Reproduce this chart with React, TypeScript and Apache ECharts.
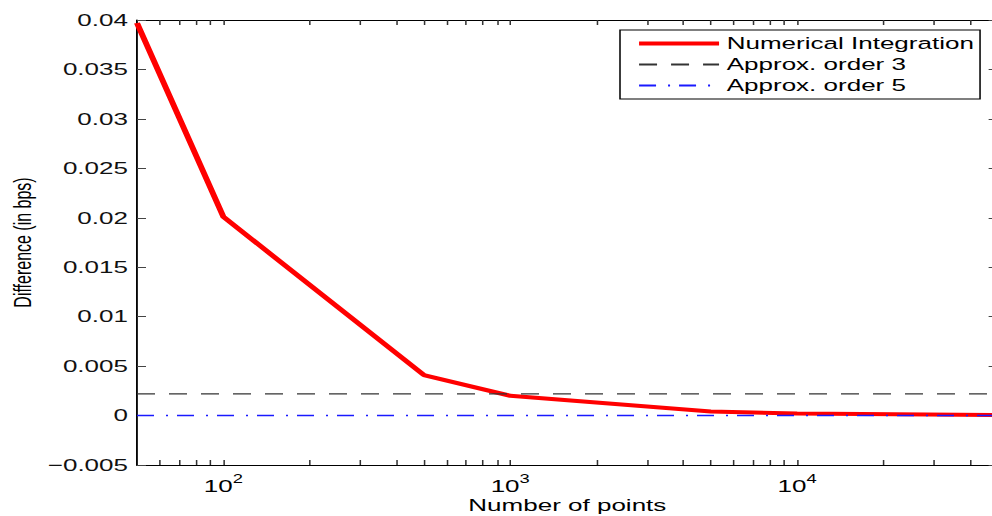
import React, { useEffect, useRef } from "react";
import * as echarts from "echarts";

// ---- data ----
const pointCounts = [50, 100, 500, 1000, 5000, 10000, 50000];
const numericalIntegration = [0.0397, 0.0201, 0.0041, 0.002, 0.0004, 0.0002, 0.00005];
const approxOrder3Value = 0.0022;
const approxOrder5Value = 0;
const xRange = [50, 50000];
const xMajorTicks = [100, 1000, 10000];
const xMajorExponents = ["2", "3", "4"];
const xMinorTicks = [60, 70, 80, 90, 200, 300, 400, 500, 600, 700, 800, 900, 2000, 3000, 4000, 5000, 6000, 7000, 8000, 9000, 20000, 30000, 40000];
const yTickValues = [-0.005, 0, 0.005, 0.01, 0.015, 0.02, 0.025, 0.03, 0.035, 0.04];
const yTickLabels = ["\u22120.005", "0", "0.005", "0.01", "0.015", "0.02", "0.025", "0.03", "0.035", "0.04"];
const seriesNames = ["Numerical Integration", "Approx. order 3", "Approx. order 5"];

// horizontal stretch of the original figure
const SX = 1.53;
const FULL_W = 1000;
const H = 516;
const FONT = "'Liberation Sans', Arial, Helvetica, sans-serif";

export default function App() {
  const ref = useRef<HTMLDivElement>(null);
  useEffect(() => {
    if (!ref.current) return;
    const chart = echarts.init(ref.current, undefined, { renderer: "svg" });
    const allXTicks = [...xMinorTicks, ...xMajorTicks].sort((a, b) => a - b);
    const findMajor = (v: number) =>
      xMajorTicks.findIndex((t) => Math.abs(v - t) / t < 1e-6);
    const findY = (v: number) => yTickValues.findIndex((t) => Math.abs(v - t) < 1e-9);
    const xAxisBase = {
      type: "log" as const,
      logBase: 10,
      min: xRange[0],
      max: xRange[1],
      axisLine: { show: true, onZero: false, lineStyle: { color: "#000", width: 1.2 } },
      splitLine: { show: false },
      axisTick: {
        show: true,
        inside: true,
        length: 5,
        customValues: allXTicks,
        lineStyle: { color: "#333", width: 1 },
      },
    };
    const yAxisBase = {
      type: "value" as const,
      min: -0.005,
      max: 0.04,
      interval: 0.005,
      splitLine: { show: false },
      axisLine: { show: true, onZero: false, lineStyle: { color: "#000", width: 1.2 } },
      axisTick: { show: true, inside: true, length: 9 / SX, lineStyle: { color: "#444", width: 1 } },
    };
    chart.setOption({
      animation: false,
      backgroundColor: "#fff",
      textStyle: { fontFamily: FONT },
      grid: {
        left: 137 / SX,
        right: (FULL_W - 997) / SX,
        top: 20,
        bottom: H - 465,
        containLabel: false,
        outerBoundsMode: "none",
      },
      legend: {
        data: [
          { name: seriesNames[0], lineStyle: { width: 4 } },
          { name: seriesNames[1] },
          { name: seriesNames[2] },
        ],
        orient: "vertical",
        left: 620 / SX,
        top: 30,
        itemWidth: 80 / SX,
        itemHeight: 14,
        itemGap: 2,
        padding: [4, 4, 4, 16 / SX],
        backgroundColor: "#fff",
        borderColor: "#000",
        borderWidth: 1,
        borderRadius: 0,
        itemStyle: { opacity: 0 },
        textStyle: { fontFamily: FONT, fontSize: 17, color: "#000", lineHeight: 19 },
      },
      xAxis: [
        {
          ...xAxisBase,
          position: "bottom",
          name: "Number of points",
          nameLocation: "middle",
          nameGap: 31,
          nameMoveOverlap: false,
          nameTextStyle: { fontFamily: FONT, fontSize: 17, color: "#000", lineHeight: 18 },
          axisLabel: {
            show: true,
            margin: 10,
            customValues: xMajorTicks,
            formatter: (v: number) => {
              const i = findMajor(v);
              return i >= 0 ? `{b|10}{e|${xMajorExponents[i]}}` : "";
            },
            rich: {
              b: { fontFamily: FONT, fontSize: 17, color: "#000", lineHeight: 22 },
              e: { fontFamily: FONT, fontSize: 12, color: "#000", padding: [0, 0, 14, 0], lineHeight: 12 },
            },
          },
        },
        {
          ...xAxisBase,
          position: "top",
          axisLabel: { show: false },
        },
      ],
      yAxis: [
        {
          ...yAxisBase,
          position: "left",
          name: "Difference (in bps)",
          nameLocation: "middle",
          nameGap: 67,
          nameMoveOverlap: false,
          nameTextStyle: { fontFamily: FONT, fontSize: 16, color: "#000" },
          axisLabel: {
            show: true,
            margin: 9 / SX,
            fontFamily: FONT,
            fontSize: 17,
            color: "#111",
            formatter: (v: number) => {
              const i = findY(v);
              return i >= 0 ? yTickLabels[i] : "";
            },
          },
        },
        {
          ...yAxisBase,
          position: "right",
          axisLabel: { show: false },
        },
      ],
      series: [
        {
          name: seriesNames[0],
          type: "line",
          symbol: "none",
          xAxisIndex: 0,
          yAxisIndex: 0,
          data: pointCounts.map((x, i) => [x, numericalIntegration[i]]),
          lineStyle: { color: "#ff0000", width: 4, join: "round", cap: "butt" },
          itemStyle: { color: "#ff0000" },
          clip: true,
        },
        {
          name: seriesNames[1],
          type: "line",
          symbol: "none",
          xAxisIndex: 0,
          yAxisIndex: 0,
          data: xRange.map((x) => [x, approxOrder3Value]),
          lineStyle: { color: "#333", width: 1.2, type: [18 / SX, 14 / SX] },
          itemStyle: { color: "#333" },
        },
        {
          name: seriesNames[2],
          type: "line",
          symbol: "none",
          xAxisIndex: 0,
          yAxisIndex: 0,
          data: xRange.map((x) => [x, approxOrder5Value]),
          lineStyle: { color: "#1a1aff", width: 1.4, type: [17 / SX, 12 / SX, 2 / SX, 9 / SX] },
          itemStyle: { color: "#1a1aff" },
        },
      ],
    });
    return () => chart.dispose();
  }, []);
  return (
    <div
      style={{
        position: "fixed",
        left: 0,
        top: 0,
        width: 992,
        height: H,
        overflow: "hidden",
        background: "#fff",
      }}
    >
      <div
        ref={ref}
        style={{
          width: FULL_W / SX,
          height: H,
          transform: `scaleX(${SX})`,
          transformOrigin: "0 0",
        }}
      />
    </div>
  );
}
